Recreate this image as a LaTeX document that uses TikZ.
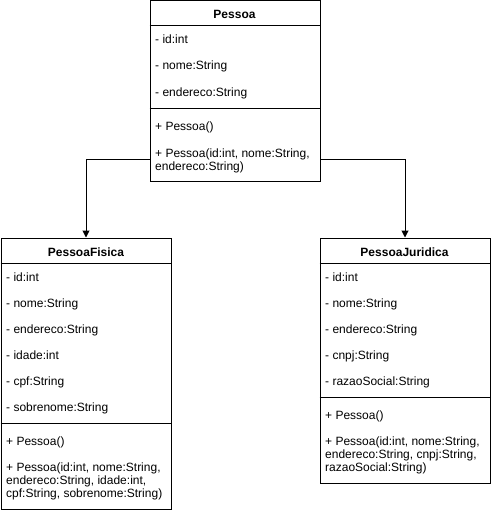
\documentclass[tikz,border=0pt]{standalone}
\usepackage{fontspec}
\setmainfont{Liberation Sans}
\usetikzlibrary{arrows.meta}
\begin{document}
\begin{tikzpicture}[x=1pt,y=-1pt,
  box/.style={draw=black, line width=1pt, inner sep=0pt, anchor=north west, minimum width=170pt},
  sepline/.style={draw=black, line width=1pt},
  attr/.style={anchor=base west, inner sep=0pt, font=\fontsize{12}{13}\selectfont},
  title/.style={anchor=base, inner sep=0pt, font=\fontsize{12}{13}\selectfont\bfseries},
  inherit/.style={draw=black, line width=1pt, -{Triangle[length=7pt,width=7pt]}}]
\useasboundingbox (0,0) rectangle (490,511);

% ---------- Pessoa ----------
\node[box, minimum height=180pt] (pessoa) at (149.5,0.5) {};
\draw[sepline] ([yshift=-25.5pt]pessoa.north west) -- ([yshift=-25.5pt]pessoa.north east);
\draw[sepline] ([yshift=-107.5pt]pessoa.north west) -- ([yshift=-107.5pt]pessoa.north east);
\node[title] (pt) at (234.5,19) {Pessoa};
\node[attr] (pa1) at (155,44) {- id:int};
\node[attr] (pa2) at (155,70) {- nome:String};
\node[attr] (pa3) at (155,96) {- endereco:String};
\node[attr] (pm1) at (155,130) {+ Pessoa()};
\node[attr] (pm2) at (155,157) {+ Pessoa(id:int, nome:String,};
\node[attr] (pm3) at (155,170) {endereco:String)};

% ---------- PessoaFisica ----------
\node[box, minimum height=271pt] (fisica) at (0.5,237.5) {};
\draw[sepline] ([yshift=-25.5pt]fisica.north west) -- ([yshift=-25.5pt]fisica.north east);
\draw[sepline] ([yshift=-185.5pt]fisica.north west) -- ([yshift=-185.5pt]fisica.north east);
\node[title] (ft) at (86,256) {PessoaFisica};
\node[attr] (fa1) at (6,281) {- id:int};
\node[attr] (fa2) at (6,307) {- nome:String};
\node[attr] (fa3) at (6,333) {- endereco:String};
\node[attr] (fa4) at (6,359) {- idade:int};
\node[attr] (fa5) at (6,385) {- cpf:String};
\node[attr] (fa6) at (6,411) {- sobrenome:String};
\node[attr] (fm1) at (6,445) {+ Pessoa()};
\node[attr] (fm2) at (6,471) {+ Pessoa(id:int, nome:String,};
\node[attr] (fm3) at (6,484) {endereco:String, idade:int,};
\node[attr] (fm4) at (6,497) {cpf:String, sobrenome:String)};

% ---------- PessoaJuridica ----------
\node[box, minimum height=245pt] (juridica) at (319.5,237.5) {};
\draw[sepline] ([yshift=-25.5pt]juridica.north west) -- ([yshift=-25.5pt]juridica.north east);
\draw[sepline] ([yshift=-159.5pt]juridica.north west) -- ([yshift=-159.5pt]juridica.north east);
\node[title] (jt) at (404.5,256) {PessoaJuridica};
\node[attr] (ja1) at (325,281) {- id:int};
\node[attr] (ja2) at (325,307) {- nome:String};
\node[attr] (ja3) at (325,333) {- endereco:String};
\node[attr] (ja4) at (325,359) {- cnpj:String};
\node[attr] (ja5) at (325,385) {- razaoSocial:String};
\node[attr] (jm1) at (325,419) {+ Pessoa()};
\node[attr] (jm2) at (325,445) {+ Pessoa(id:int, nome:String,};
\node[attr] (jm3) at (325,458) {endereco:String, cnpj:String,};
\node[attr] (jm4) at (325,471) {razaoSocial:String)};

% ---------- connectors ----------
\draw[inherit] ([yshift=-158.5pt]pessoa.north west) -| (fisica.north);
\draw[inherit] ([yshift=-158.5pt]pessoa.north east) -| (juridica.north);
\end{tikzpicture}
\end{document}
